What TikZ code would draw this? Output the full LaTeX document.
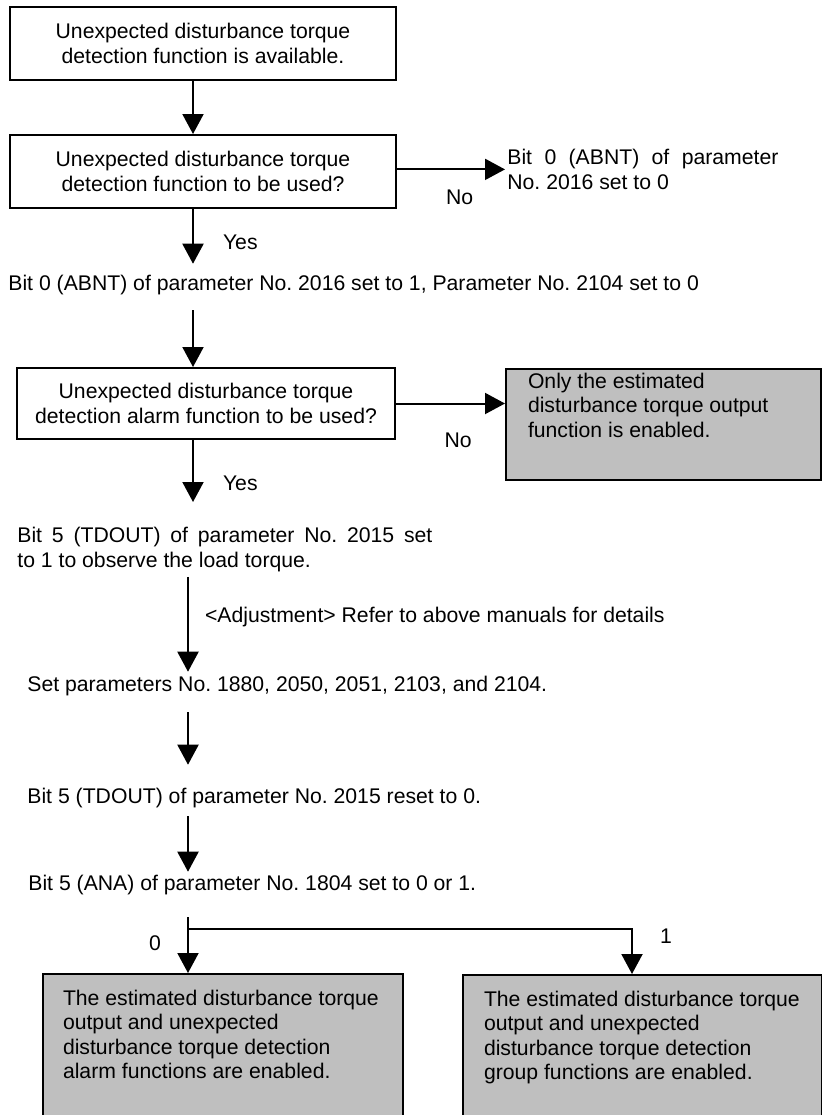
\documentclass[tikz,border=0pt]{standalone}
\usepackage{fontspec}
\setmainfont{Liberation Sans}
\usetikzlibrary{arrows.meta,positioning}
\frenchspacing

\tikzset{
  flowbox/.style={draw, line width=1pt, minimum width=193pt, minimum height=36.5pt, align=center, inner sep=2pt},
  graybox/.style={draw, line width=1pt, fill=black!25, anchor=north west, inner xsep=10pt, inner ysep=2pt},
  plain/.style={inner sep=0pt},
  lbl/.style={inner sep=0pt},
  line/.style={line width=1pt},
  flow/.style={line width=1pt, -{Triangle[length=10pt,width=10.5pt]}},
}

\begin{document}
\begin{tikzpicture}[x=0.5pt, y=-0.5pt, font=\fontsize{10.6}{12.2}\selectfont]
  \useasboundingbox (0,0) rectangle (822,1115);
  \clip (0,0) rectangle (822,1115);

  \coordinate (col) at (193,0);
  \coordinate (col2) at (188,0);
  \coordinate (split) at (188,929);

  \node[flowbox] (avail) at (203,43.5) {Unexpected disturbance torque\\detection function is available.};
  \node[flowbox] (use) at (203,171.5) {Unexpected disturbance torque\\detection function to be used?};
  \node[plain, anchor=north west, text width=135.5pt, align=justify] (abnt0) at (507,149)
    {Bit 0 (ABNT) of parameter\linebreak No. 2016 set to 0};
  \node[plain, anchor=west] (abnt1) at (8,285)
    {Bit 0 (ABNT) of parameter No. 2016 set to 1, Parameter No. 2104 set to 0};

  \node[flowbox, minimum width=189pt, minimum height=35.5pt] (alarm) at (206,403.5)
    {Unexpected disturbance torque\\detection alarm function to be used?};
  \node[graybox, inner xsep=11pt] (only) at (505,368)
    {\parbox[c][51.5pt][t]{135.5pt}{\raggedright Only the estimated\\disturbance torque output\\function is enabled.}};

  \node[plain, anchor=north west, text width=207.5pt, align=justify] (tdout) at (17,527)
    {Bit 5 (TDOUT) of parameter No. 2015 set\linebreak to 1 to observe the load torque.};
  \node[plain, anchor=west] (setpar) at (27,686) {Set parameters No. 1880, 2050, 2051, 2103, and 2104.};
  \node[plain, anchor=west] (reset) at (27,798) {Bit 5 (TDOUT) of parameter No. 2015 reset to 0.};
  \node[plain, anchor=west] (ana) at (28,885) {Bit 5 (ANA) of parameter No. 1804 set to 0 or 1.};

  \node[graybox, inner ysep=8pt] (withalarm) at (42,973)
    {\parbox[c][80pt][t]{160pt}{\raggedright The estimated disturbance torque\\output and unexpected\\disturbance torque detection\\alarm functions are enabled.}};
  \node[graybox, inner xsep=10.5pt, inner ysep=8pt] (withgroup) at (462,974)
    {\parbox[c][80pt][t]{158.5pt}{\raggedright The estimated disturbance torque\\output and unexpected\\disturbance torque detection\\group functions are enabled.}};

  % upper part
  \draw[flow] (avail.south -| col) -- (use.north -| col);
  \draw[flow, shorten >=1pt] (use.east |- abnt0.west) -- (abnt0.west)
    node[lbl, pos=0.57, below=10pt] (no1) {No};
  \draw[flow, shorten >=5.5pt] (use.south -| col) -- (abnt1.north -| col)
    node[lbl, midway, right=14.5pt] (yes1) {Yes};
  \draw[flow, shorten <=7.5pt] (abnt1.south -| col) -- (alarm.north -| col);
  \draw[flow] (alarm.east) -- (only.west |- alarm.east)
    node[lbl, pos=0.57, below=14pt] (no2) {No};
  \draw[flow, shorten >=12.5pt] (alarm.south -| col) -- (tdout.north -| col)
    node[lbl, midway, right=14.5pt] (yes2) {Yes};

  % adjustment steps
  \draw[flow, shorten <=2.5pt, shorten >=2pt] (tdout.south -| col2) -- (setpar.north -| col2)
    node[lbl, pos=0.43, right=8pt] (adj) {<Adjustment> Refer to above manuals for details};
  \draw[flow, shorten <=8pt, shorten >=11.5pt] (setpar.south -| col2) -- (reset.north -| col2);
  \draw[flow, shorten <=4pt, shorten >=1.5pt] (reset.south -| col2) -- (ana.north -| col2);

  % branch on ANA
  \draw[line, shorten <=11pt] (ana.south -| col2) -- (split);
  \draw[flow] (split) -- (withalarm.north -| col2)
    node[lbl, pos=0.32, left=13pt] (zero) {0};
  \draw[flow] (split) -| ([xshift=-5.25pt]withgroup.north)
    node[lbl, pos=0.58, right=13.5pt] (one) {1};
\end{tikzpicture}
\end{document}
